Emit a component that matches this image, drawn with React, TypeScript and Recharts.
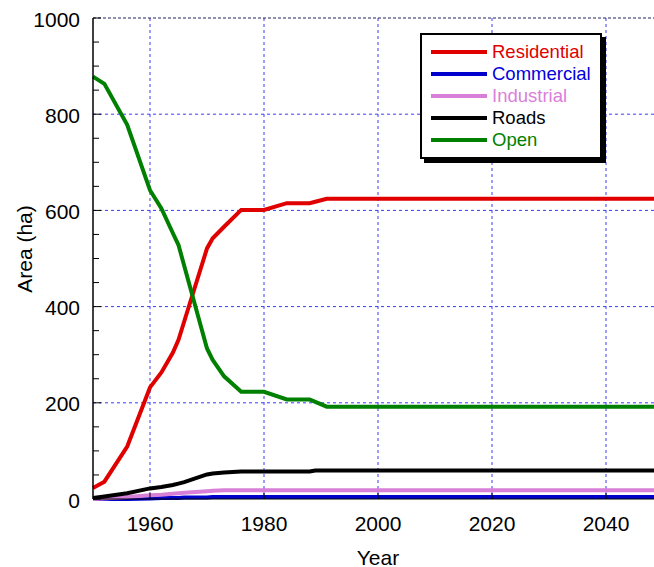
import React from 'react';
import { LineChart, Line, XAxis, YAxis, CartesianGrid, Legend, ReferenceLine } from 'recharts';

// years where any series has a kink
const years = [1950, 1952, 1956, 1960, 1962, 1964, 1965, 1966, 1970, 1971, 1973, 1976, 1980, 1984, 1988, 1989, 1991, 2050];

const residential = [23, 36, 109, 232, 263, 304, 331, 369, 521, 542, 566, 601, 601, 615, 615, 618, 624, 624];
const commercial = [0, 0, 0, 1, 2, 2, 2, 3, 3, 4, 4, 4, 4, 4, 4, 4, 4, 4];
const industrial = [0, 1, 4, 8, 9, 11, 12, 13, 16, 17, 18, 18, 18, 18, 18, 18, 18, 18];
const roads = [2, 5, 12, 22, 25, 29, 32, 35, 51, 53, 55, 57, 57, 57, 57, 59, 59, 59];
const open = [878, 863, 778, 642, 604, 553, 528, 485, 313, 289, 255, 223, 223, 207, 207, 202, 192, 192];

const xTicks = [1960, 1980, 2000, 2020, 2040];
const yTicks = [0, 50, 100, 150, 200, 250, 300, 350, 400, 450, 500, 550, 600, 650, 700, 750, 800, 850, 900, 950, 1000];
const yGrid = [200, 400, 600, 800];

const SERIES = [
  { key: 'Residential', color: '#e00000', text: '#e00000' },
  { key: 'Commercial', color: '#0000cc', text: '#0000dd' },
  { key: 'Industrial', color: '#d880d8', text: '#da80da' },
  { key: 'Roads', color: '#000000', text: '#000000' },
  { key: 'Open', color: '#008000', text: '#008000' },
];

const data = years.map((year, i) => ({
  year,
  Residential: residential[i],
  Commercial: commercial[i],
  Industrial: industrial[i],
  Roads: roads[i],
  Open: open[i],
}));

const FONT = '"Liberation Sans", Arial, sans-serif';

const YTick = (props: any) => {
  const { x, y, payload } = props;
  const v = payload.value;
  const major = v % 200 === 0;
  return (
    <g>
      <line x1={x} x2={x + (major ? 8 : 6)} y1={y} y2={y} stroke="#000" strokeWidth={1} />
      {major && (
        <text x={x - 13} y={y + 1} textAnchor="end" dominantBaseline="central" fontSize={21} fontFamily={FONT} fill="#000">
          {v}
        </text>
      )}
    </g>
  );
};

const XTick = (props: any) => {
  const { x, y, payload } = props;
  return (
    <g>
      <line x1={x} x2={x} y1={y} y2={y - 6} stroke="#000" strokeWidth={1} />
      <text x={x} y={y + 24} textAnchor="middle" dominantBaseline="central" fontSize={21} fontFamily={FONT} fill="#000">
        {payload.value}
      </text>
    </g>
  );
};

const LegendBox = () => (
  <div
    style={{
      width: 182,
      height: 126,
      boxSizing: 'border-box',
      border: '2px solid #000',
      boxShadow: '4px 4px 0 #000',
      background: '#fff',
      paddingTop: 6,
      fontFamily: FONT,
      fontSize: 18.5,
    }}
  >
    {SERIES.map((s) => (
      <div key={s.key} style={{ height: 22, display: 'flex', alignItems: 'center' }}>
        <div style={{ marginLeft: 9, width: 56, height: 4, background: s.color }} />
        <span style={{ marginLeft: 5, color: s.text, lineHeight: '22px' }}>{s.key}</span>
      </div>
    ))}
  </div>
);

export default function App() {
  return (
    <div style={{ position: 'absolute', left: 0, top: 0, width: 654, height: 567, overflow: 'hidden', background: '#fff' }}>
      <LineChart width={680} height={567} data={data} margin={{ top: 18, right: 17, bottom: 28, left: 0 }}>
        <CartesianGrid
          stroke="#3a3aff"
          strokeDasharray="3 3"
          horizontalValues={yGrid}
          verticalValues={xTicks}
        />
        <ReferenceLine y={1000} stroke="#202060" strokeDasharray="3 2" />
        <XAxis
          dataKey="year"
          type="number"
          domain={[1950, 2050]}
          ticks={xTicks}
          height={40}
          tickSize={0}
          tickMargin={0}
          tickLine={false}
          axisLine={{ stroke: '#000', strokeWidth: 1 }}
          tick={<XTick />}
          label={() => (
            <text x={378} y={557} textAnchor="middle" dominantBaseline="central" fontSize={21} fontFamily={FONT} fill="#000">
              Year
            </text>
          )}
        />
        <YAxis
          type="number"
          domain={[0, 1000]}
          ticks={yTicks}
          width={93}
          tickSize={0}
          tickMargin={0}
          tickLine={false}
          interval={0}
          axisLine={{ stroke: '#000', strokeWidth: 1.5 }}
          tick={<YTick />}
          label={() => (
            <text
              x={24}
              y={249}
              textAnchor="middle"
              dominantBaseline="central"
              fontSize={21}
              fontFamily={FONT}
              fill="#000"
              transform="rotate(-90 24 249)"
            >
              Area (ha)
            </text>
          )}
        />
        <Legend
          layout="vertical"
          align="center"
          verticalAlign="middle"
          content={<LegendBox />}
          wrapperStyle={{ left: 420, top: 33, width: 182, height: 126 }}
        />
        {SERIES.map((s) => (
          <Line
            key={s.key}
            type="linear"
            dataKey={s.key}
            stroke={s.color}
            strokeWidth={4}
            dot={false}
            activeDot={false}
            isAnimationActive={false}
          />
        ))}
      </LineChart>
    </div>
  );
}
